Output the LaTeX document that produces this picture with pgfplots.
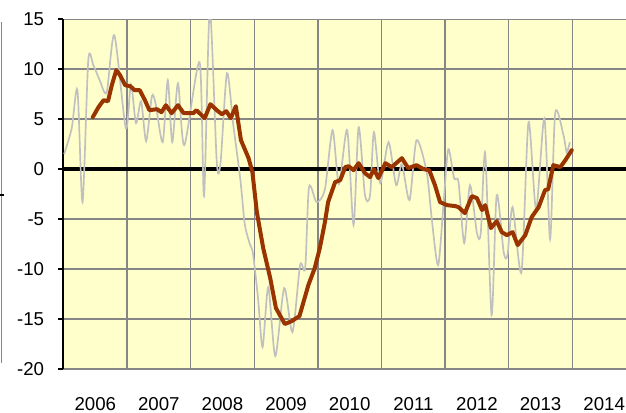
\documentclass[border=0pt]{standalone}
\usepackage{pgfplots}
\pgfplotsset{compat=1.18}
\usepackage{fontspec}
\setmainfont{Liberation Sans}

\definecolor{paleyellow}{RGB}{255,255,204}
\definecolor{gridgray}{RGB}{134,134,134}
\definecolor{silverline}{RGB}{192,192,192}
\definecolor{rust}{RGB}{153,51,0}

\begin{document}
\begin{tikzpicture}
\useasboundingbox (-47.6pt,-32.25pt) rectangle (421.9pt,276.75pt);
\clip (-47.6pt,-32.25pt) rectangle (421.9pt,276.75pt);
\begin{axis}[
   at={(0,0)}, anchor=south west,
   scale only axis,
   width=429.4pt, height=262.3pt,
   xmin=2006, xmax=2015,
   ymin=-20, ymax=15,
   axis background/.style={fill=paleyellow},
   axis x line*=bottom,
   axis y line*=left,
   x axis line style={draw=none},
   y axis line style={black, line width=1.5pt},
   tick align=outside,
   xtick={2006.5,2007.5,...,2014.5},
   xticklabels={2006,2007,2008,2009,2010,2011,2012,2013,2014},
   x tick style={draw=none},
   minor xtick={2006,2007,...,2015},
   xminorgrids=true,
   ytick={-20,-15,...,15},
   ymajorgrids=true,
   y tick style={black, line width=1.2pt},
   major tick length=4pt,
   grid style={gridgray, line width=1.1pt},
   minor grid style={gridgray, line width=1.1pt},
   major grid style={gridgray, line width=1.1pt},
   extra y ticks={0},
   extra y tick labels={},
   extra y tick style={grid=major, major grid style={black, line width=2.5pt}},
   /pgf/number format/assume math mode=true,
   tick label style={font=\fontsize{14}{16}\selectfont},
   xticklabel style={yshift=-13.5pt},
   yticklabel style={xshift=-7pt},
   clip=true,
]
% monthly index (thin grey)
\addplot[silverline, line width=1.25pt, smooth, tension=0.45] coordinates {
 (2006.01,1.5) (2006.13,4.1) (2006.22,7.9) (2006.30,-3.3) (2006.39,10.9)
 (2006.47,10.4) (2006.57,8.9) (2006.68,7.7) (2006.80,13.4) (2006.98,4.1)
 (2007.06,8.5) (2007.14,4.6) (2007.22,6.8) (2007.30,2.8) (2007.39,7.3)
 (2007.45,6.5) (2007.56,2.7) (2007.64,8.9) (2007.71,2.7) (2007.80,8.6)
 (2007.90,2.4) (2008.14,10.7) (2008.21,-2.7) (2008.30,16.0) (2008.41,0.7)
 (2008.47,0.7) (2008.57,9.6) (2008.67,4.4) (2008.78,-1.0) (2008.85,-5.5)
 (2008.93,-7.5) (2008.98,-8.5) (2009.06,-13.0) (2009.13,-17.8) (2009.22,-11.8)
 (2009.33,-18.7) (2009.47,-11.9) (2009.60,-16.3) (2009.72,-9.6) (2009.80,-9.9)
 (2009.86,-1.8) (2009.98,-3.3) (2010.11,-2.0) (2010.23,3.9) (2010.33,-1.5)
 (2010.46,3.9) (2010.56,-5.6) (2010.64,4.2) (2010.74,-2.6) (2010.82,-2.6)
 (2010.88,3.7) (2010.98,-1.4) (2011.11,2.7) (2011.23,-1.6) (2011.32,0.5)
 (2011.44,-3.1) (2011.55,2.9) (2011.71,-0.3) (2011.79,-5.0) (2011.89,-9.6)
 (2011.98,-3.0) (2012.05,2.0) (2012.14,-0.9) (2012.21,-1.3) (2012.30,-7.4)
 (2012.39,-1.6) (2012.50,-6.4) (2012.56,-6.4) (2012.63,1.6) (2012.73,-14.6)
 (2012.81,-2.6) (2012.92,-8.3) (2012.98,-8.6) (2013.06,-3.8) (2013.20,-10.3)
 (2013.31,4.7) (2013.43,-4.0) (2013.56,5.1) (2013.65,-7.0) (2013.73,5.6)
 (2013.86,3.4) (2013.91,1.7) (2013.96,2.7)
};
% moving average (thick rust)
\addplot[rust, line width=3pt, line join=round, line cap=round] coordinates {
 (2006.46,5.2) (2006.55,6.2) (2006.63,6.9) (2006.70,6.8) (2006.76,8.4)
 (2006.83,9.9) (2006.89,9.4) (2006.97,8.4) (2007.05,8.3) (2007.12,7.9)
 (2007.20,7.9) (2007.28,6.9) (2007.35,5.9) (2007.47,6.0) (2007.54,5.7)
 (2007.61,6.4) (2007.70,5.6) (2007.80,6.4) (2007.89,5.6) (2008.04,5.6)
 (2008.09,5.9) (2008.22,5.1) (2008.31,6.5) (2008.41,5.9) (2008.49,5.5)
 (2008.56,5.8) (2008.63,5.1) (2008.71,6.3) (2008.79,2.9) (2008.91,1.1)
 (2008.97,-0.3) (2009.04,-4.3) (2009.14,-7.9) (2009.25,-10.9) (2009.34,-13.9)
 (2009.48,-15.5) (2009.59,-15.2) (2009.71,-14.7) (2009.85,-11.6) (2009.95,-9.9)
 (2010.03,-7.9) (2010.11,-5.3) (2010.16,-3.3) (2010.27,-1.3) (2010.35,-1.1)
 (2010.43,0.2) (2010.48,0.3) (2010.56,-0.1) (2010.64,0.6) (2010.74,-0.4)
 (2010.82,-0.8) (2010.88,0.0) (2010.95,-0.9) (2011.06,0.6) (2011.16,0.2)
 (2011.32,1.1) (2011.42,0.1) (2011.55,0.4) (2011.66,0.0) (2011.75,-0.1)
 (2011.84,-1.6) (2011.92,-3.3) (2012.03,-3.6) (2012.16,-3.7) (2012.21,-3.8)
 (2012.31,-4.4) (2012.42,-2.7) (2012.50,-2.9) (2012.58,-4.1) (2012.63,-3.6)
 (2012.72,-5.9) (2012.81,-5.2) (2012.89,-6.3) (2012.97,-6.6) (2013.06,-6.3)
 (2013.14,-7.6) (2013.26,-6.6) (2013.36,-4.8) (2013.47,-3.8) (2013.57,-2.1)
 (2013.62,-2.0) (2013.70,0.4) (2013.81,0.2) (2013.89,0.9) (2013.99,1.9)
};
\end{axis}
% edge of the neighbouring chart on the left
\draw[gridgray, line width=1.1pt] (-46.5pt,4.5pt) -- (-46.5pt,260pt);
\draw[black, line width=1.2pt] (-47.6pt,130.5pt) -- (-44.8pt,130.5pt);
\end{tikzpicture}
\end{document}
